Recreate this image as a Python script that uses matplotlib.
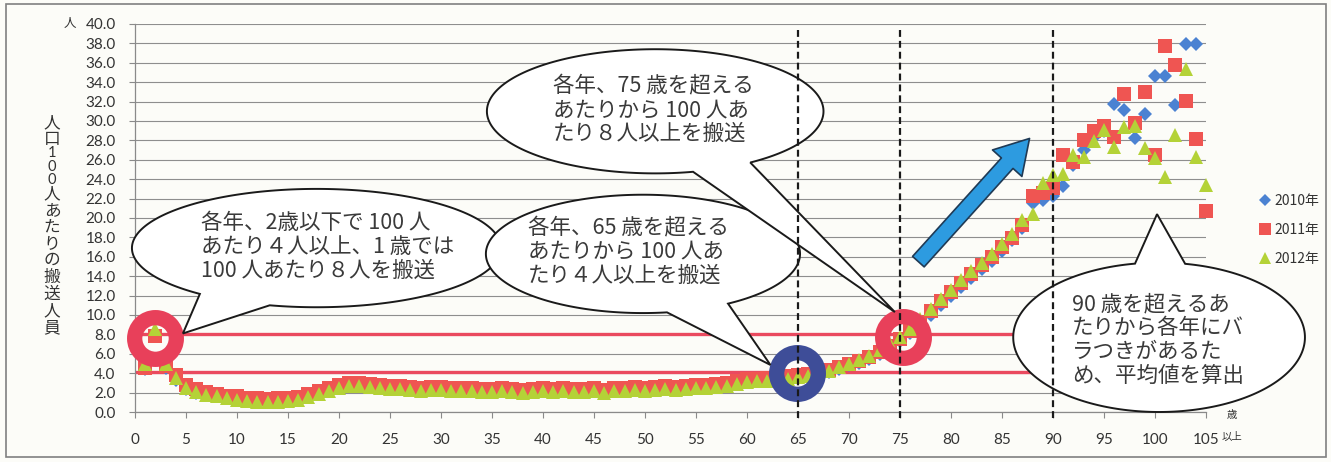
import numpy as np
import matplotlib
matplotlib.use("Agg")
import matplotlib.pyplot as plt
from matplotlib.patches import Polygon, FancyArrowPatch, Rectangle
from matplotlib.lines import Line2D

plt.rcParams['font.family'] = ['Noto Sans CJK JP', 'DejaVu Sans']

# ---- data ----
ages = list(range(1, 106))

y2010 = [4.4, 8.0, 4.5, 3.3, 2.4, 2.0, 1.8, 1.6, 1.4, 1.3,
         1.2, 1.15, 1.1, 1.15, 1.2, 1.3, 1.6, 2.0, 2.3, 2.6,
         2.8, 2.75, 2.65, 2.55, 2.5, 2.45, 2.4, 2.3, 2.35, 2.4,
         2.3, 2.25, 2.3, 2.2, 2.15, 2.25, 2.2, 2.1, 2.2, 2.25,
         2.15, 2.3, 2.15, 2.2, 2.3, 2.1, 2.25, 2.3, 2.35, 2.3,
         2.4, 2.45, 2.4, 2.5, 2.55, 2.6, 2.7, 2.8, 3.0, 3.2,
         3.25, 3.3, 3.4, 3.55, 3.6, 3.7, 3.9, 4.1, 4.4, 4.8,
         5.1, 5.5, 6.0, 6.6, 7.3, 8.1, 9.0, 10.0, 11.0, 12.0,
         12.9, 13.8, 14.7, 15.6, 16.6, 17.7, 19.0, 21.5, 21.9, 22.3,
         23.3, 25.5, 27.0, 28.3, 29.0, 31.8, 31.1, 28.2, 30.7, 34.6,
         34.6, 31.7, 37.9, 37.9, np.nan]

y2011 = [4.5, 7.8, 4.7, 3.8, 2.8, 2.4, 2.1, 1.9, 1.7, 1.6,
         1.45, 1.4, 1.35, 1.4, 1.4, 1.5, 1.9, 2.2, 2.5, 2.8,
         3.0, 2.95, 2.85, 2.8, 2.7, 2.65, 2.6, 2.5, 2.55, 2.6,
         2.5, 2.45, 2.5, 2.4, 2.35, 2.45, 2.4, 2.3, 2.4, 2.45,
         2.35, 2.5, 2.35, 2.4, 2.5, 2.3, 2.45, 2.5, 2.55, 2.5,
         2.6, 2.65, 2.6, 2.7, 2.75, 2.8, 2.9, 3.0, 3.2, 3.4,
         3.45, 3.5, 3.6, 3.7, 3.8, 3.9, 4.1, 4.3, 4.6, 5.0,
         5.3, 5.7, 6.2, 6.8, 7.5, 8.4, 9.3, 10.4, 11.4, 12.4,
         13.3, 14.2, 15.2, 16.0, 17.0, 17.9, 19.3, 22.3, 22.6, 23.1,
         26.5, 25.8, 28.0, 29.0, 29.5, 28.4, 32.8, 29.8, 33.0, 26.5,
         37.7, 35.8, 32.1, 28.1, 20.7]

y2012 = [4.9, 8.6, 5.0, 3.5, 2.5, 2.1, 1.8, 1.6, 1.4, 1.2,
         1.1, 1.05, 1.0, 1.05, 1.1, 1.2, 1.5, 1.9, 2.2, 2.5,
         2.7, 2.65, 2.55, 2.45, 2.4, 2.35, 2.3, 2.2, 2.25, 2.3,
         2.2, 2.15, 2.2, 2.1, 2.05, 2.15, 2.1, 2.0, 2.1, 2.15,
         2.05, 2.2, 2.05, 2.1, 2.2, 2.0, 2.15, 2.2, 2.25, 2.2,
         2.3, 2.35, 2.3, 2.4, 2.45, 2.5, 2.6, 2.7, 2.9, 3.1,
         3.15, 3.2, 3.3, 3.45, 3.6, 3.75, 4.0, 4.25, 4.6, 5.0,
         5.4, 5.8, 6.4, 7.0, 7.7, 8.6, 9.6, 10.6, 11.7, 12.6,
         13.6, 14.5, 15.4, 16.3, 17.3, 18.4, 19.8, 20.4, 23.6, 24.4,
         24.5, 26.5, 26.3, 27.9, 29.1, 27.3, 29.4, 29.5, 27.2, 26.2,
         24.2, 28.6, 35.4, 26.3, 23.4]

series_labels = ['2010年', '2011年', '2012年']
ref_lines = [8.0, 4.15]
age_marks = [65, 75, 90]

xticks = list(range(0, 106, 5))
yticks = np.arange(0, 40.1, 2)

blue = '#4b82d2'
red = '#ef5552'
green = '#b4d237'
txt = '#333333'
bg = '#fcfcf8'

W, H = 1331, 462
fig = plt.figure(figsize=(W / 100, H / 100), dpi=100)
fig.patch.set_facecolor(bg)
ax = fig.add_axes([135 / W, 1 - 412 / H, (1206 - 135) / W, (412 - 24) / H])
ax.set_facecolor(bg)
ax.set_xlim(0, 105)
ax.set_ylim(0, 40)

# grid + axes
ax.set_yticks(yticks)
ax.set_yticklabels([f'{v:.1f}' for v in yticks], family='Lato', fontsize=11, color=txt)
ax.set_xticks(xticks)
ax.set_xticklabels([str(v) for v in xticks], family='Lato', fontsize=11, color=txt)
ax.yaxis.grid(True, color='#8e8e8e', lw=0.8, zorder=0)
ax.set_axisbelow(True)
for s in ['top', 'right']:
    ax.spines[s].set_visible(False)
for s in ['left', 'bottom']:
    ax.spines[s].set_color('#8a8a8a')
    ax.spines[s].set_linewidth(0.9)
ax.tick_params(axis='y', length=4, color='#8a8a8a', pad=10)
ax.tick_params(axis='x', length=4, color='#8a8a8a', pad=11)

# reference lines
ax.hlines(ref_lines, 0, 95, colors='#ea4a5f', lw=2.4, zorder=2)

# scatter series
ax.plot(ages, y2010, 'D', color=blue, ms=7.5, mew=0, zorder=3, clip_on=False)
ax.plot(ages, y2011, 's', color=red, ms=10, mew=0, zorder=3.1, clip_on=False)
ax.plot(ages, y2012, '^', color=green, ms=10.5, mew=0, zorder=3.2, clip_on=False)

# highlight rings
ax.plot([2.0, 75.3], [7.6, 7.7], 'o', ms=30, mfc='none', mec='#e8405a', mew=11, zorder=5, clip_on=False)
ax.plot([64.9], [4.0], 'o', ms=30, mfc='none', mec='#3e4d98', mew=11, zorder=5, clip_on=False)

# blue arrow
arr = FancyArrowPatch((76.8, 15.5), (87.7, 28.2),
                      arrowstyle='simple,head_length=1.6,head_width=1.9,tail_width=0.75',
                      mutation_scale=15, fc='#2d9be0', ec='#1f3a55', lw=1.2,
                      shrinkA=0, shrinkB=0, zorder=6)
ax.add_patch(arr)


def bubble(cx, cy, a, b, t1, t2, tip, z):
    t = np.radians(np.linspace(t2, t1 + 360, 240))
    pts = np.column_stack([cx + a * np.cos(t), cy + b * np.sin(t)])
    pts = np.vstack([pts, tip])
    ax.add_patch(Polygon(pts, closed=True, fc='white', ec='#1a1a1a', lw=1.4,
                         zorder=z, clip_on=False))


bubble(17.8, 16.9, 18.1, 6.1, 230.8, 255.3, (4.7, 8.1), 7)
bubble(49.8, 16.3, 15.4, 6.1, 278.8, 302.8, (62.3, 4.85), 7.1)
bubble(51.0, 31.0, 16.5, 6.4, 283.0, 304.4, (74.5, 10.3), 7.2)
bubble(100.4, 7.7, 14.3, 7.7, 79.7, 99.5, (100.2, 20.4), 7.3)

tk = dict(fontsize=15.5, color='#3a3a3a', ha='center', va='center',
          multialignment='left', linespacing=1.1, zorder=8)
ax.text(18.9, 17.0, '各年、2歳以下で 100 人\nあたり４人以上、1 歳では\n100 人あたり８人を搬送', **tk)
ax.text(48.4, 16.5, '各年、65 歳を超える\nあたりから 100 人あ\nたり４人以上を搬送', **tk)
ax.text(50.8, 31.1, '各年、75 歳を超える\nあたりから 100 人あ\nたり８人以上を搬送', **tk)
ax.text(100.3, 7.4, '90 歳を超えるあ\nたりから各年にバ\nラつきがあるた\nめ、平均値を算出', **tk)

# dashed age markers
ax.vlines(age_marks, -0.6, 39.4, colors='#1a1a1a', lw=1.6,
          linestyles=(0, (3.1, 1.8)), zorder=10, clip_on=False)

# legend
handles = [Line2D([], [], marker='D', ls='', color=blue, ms=6, mew=0),
           Line2D([], [], marker='s', ls='', color=red, ms=8, mew=0),
           Line2D([], [], marker='^', ls='', color=green, ms=8.5, mew=0)]
leg = fig.legend(handles, series_labels, loc='upper left', bbox_to_anchor=(1254 / W, 1 - 188 / H),
                 frameon=False, fontsize=10, handlelength=0.8, handletextpad=0.3,
                 labelspacing=1.1, borderaxespad=0)
for t in leg.get_texts():
    t.set_color(txt)

# axis captions
fig.text(70 / W, 1 - 24 / H, '人', fontsize=9, color=txt, ha='center', va='center')
fig.text(1222 / W, 1 - 437 / H, '以上', fontsize=7.5, color=txt, ha='left', va='center')
fig.text(1232 / W, 1 - 415 / H, '歳', fontsize=7.5, color=txt, ha='center', va='center')

ylab = '人口100人あたりの搬送人員'
yy = 123.0
prev = ''
for c in ylab:
    if prev:
        yy += 13.5 if (c.isdigit() or prev.isdigit()) else 16.7
    if c.isdigit():
        fig.text(52 / W, 1 - yy / H, c, fontsize=10.5, family='Lato', color=txt,
                 ha='center', va='center')
    else:
        fig.text(52 / W, 1 - yy / H, c, fontsize=12, color=txt, ha='center', va='center')
    prev = c

# outer frame
fig.patches.append(Rectangle((6 / W, 5 / H), (1326 - 6) / W, (458 - 5) / H,
                             transform=fig.transFigure, fill=False, ec='#808080', lw=1.2))

fig.savefig('out.png', dpi=100, facecolor=fig.get_facecolor())
